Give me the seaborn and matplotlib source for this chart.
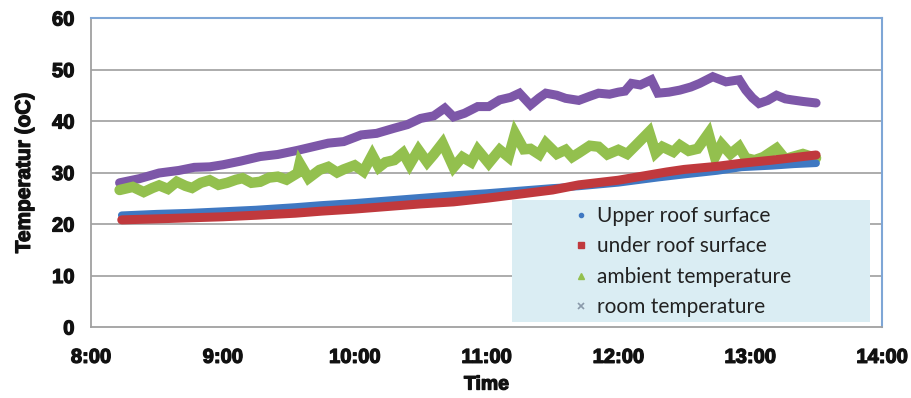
import numpy as np
import pandas as pd
import matplotlib
matplotlib.use("Agg")
import matplotlib.pyplot as plt
from matplotlib.lines import Line2D
from matplotlib.patches import Rectangle
import matplotlib.patheffects as pe
import seaborn as sns

# ---------------- data ----------------
upper_time = ["8:14", "8:30", "8:45", "9:00", "9:15", "9:33", "9:45", "10:00", "10:15",
              "10:30", "10:45", "11:00", "11:15", "11:30", "11:42", "12:00", "12:18",
              "12:30", "12:45", "12:56", "13:10", "13:20", "13:30"]
upper_vals = [21.7, 22.0, 22.2, 22.5, 22.8, 23.3, 23.7, 24.1, 24.6,
              25.1, 25.6, 26.0, 26.5, 27.0, 27.3, 28.0, 29.0,
              29.6, 30.3, 31.0, 31.3, 31.6, 31.8]

under_time = ["8:14", "8:30", "8:45", "9:00", "9:15", "9:33", "9:45", "10:00", "10:15",
              "10:30", "10:45", "11:00", "11:15", "11:30", "11:42", "12:00", "12:22",
              "12:30", "12:45", "12:56", "13:10", "13:20", "13:30"]
under_vals = [20.8, 21.0, 21.2, 21.4, 21.7, 22.1, 22.5, 22.9, 23.4,
              23.9, 24.3, 25.0, 25.8, 26.6, 27.6, 28.5, 30.1,
              30.6, 31.2, 31.8, 32.4, 32.9, 33.4]

ambient_time = ["8:13", "8:19", "8:24", "8:28", "8:31", "8:35", "8:39", "8:43", "8:46", "8:50",
                "8:54", "8:58", "9:02", "9:06", "9:09", "9:13", "9:17", "9:21", "9:25", "9:29",
                "9:34", "9:35", "9:39", "9:44", "9:48", "9:52", "9:55", "10:00", "10:04", "10:08",
                "10:11", "10:14", "10:18", "10:22", "10:25", "10:29", "10:33", "10:36", "10:40",
                "10:45", "10:49", "10:53", "10:56", "11:01", "11:06", "11:10", "11:13", "11:17",
                "11:20", "11:24", "11:27", "11:32", "11:36", "11:39", "11:42", "11:47", "11:51",
                "11:55", "12:00", "12:04", "12:08", "12:14", "12:17", "12:20", "12:25", "12:28",
                "12:32", "12:36", "12:41", "12:44", "12:47", "12:51", "12:55", "12:58", "13:02",
                "13:06", "13:12", "13:16", "13:19", "13:24", "13:30"]
ambient_vals = [26.6, 27.2, 26.2, 27.0, 27.5, 26.8, 28.2, 27.4, 27.0, 28.0,
                28.5, 27.6, 28.0, 28.6, 28.9, 28.0, 28.2, 29.0, 29.2, 28.6,
                29.9, 31.8, 28.9, 30.5, 31.1, 30.0, 30.6, 31.4, 30.2, 33.4,
                31.0, 32.0, 32.4, 33.8, 31.5, 34.4, 32.0, 33.5, 35.7,
                31.0, 33.0, 32.0, 34.4, 31.8, 34.4, 33.0, 37.6, 34.5,
                34.6, 33.5, 35.7, 33.6, 34.4, 33.0, 33.8, 35.2, 35.0,
                33.5, 34.4, 33.6, 35.3, 37.9, 33.8, 35.0, 34.0, 35.3,
                34.2, 34.6, 37.6, 33.0, 35.5, 33.6, 35.0, 32.8, 32.4,
                33.0, 34.7, 32.6, 33.0, 33.6, 32.8]

room_time = ["8:13", "8:22", "8:31", "8:40", "8:47", "8:54", "9:00", "9:08", "9:17",
             "9:25", "9:34", "9:41", "9:48", "9:55", "10:03", "10:10", "10:18", "10:24",
             "10:30", "10:36", "10:41", "10:45", "10:50", "10:56", "11:01", "11:06", "11:11",
             "11:15", "11:20", "11:24", "11:27", "11:32", "11:36", "11:42", "11:47", "11:51",
             "11:56", "12:00", "12:03", "12:06", "12:10", "12:15", "12:18", "12:23", "12:28",
             "12:33", "12:37", "12:43", "12:49", "12:55", "12:58", "13:01", "13:04", "13:08",
             "13:12", "13:16", "13:19", "13:24", "13:30"]
room_vals = [28.0, 28.8, 29.9, 30.4, 31.0, 31.1, 31.5, 32.2, 33.1,
             33.5, 34.3, 35.0, 35.7, 36.0, 37.3, 37.6, 38.6, 39.3,
             40.5, 41.0, 42.5, 40.8, 41.5, 42.8, 42.8, 44.1, 44.6,
             45.4, 43.1, 44.5, 45.4, 45.0, 44.4, 44.0, 44.8, 45.4,
             45.2, 45.6, 45.8, 47.3, 47.0, 48.0, 45.4, 45.6, 46.0,
             46.6, 47.3, 48.6, 47.6, 48.0, 46.0, 44.5, 43.4, 44.0,
             45.0, 44.3, 44.1, 43.8, 43.5]

series_names = ["Upper roof surface", "under roof surface",
                "ambient temperature", "room temperature"]
x_tick_labels = ["8:00", "9:00", "10:00", "11:00", "12:00", "13:00", "14:00"]
y_ticks = [0, 10, 20, 30, 40, 50, 60]


def to_hours(lbls):
    out = []
    for s in lbls:
        h, m = s.split(":")
        out.append(int(h) + int(m) / 60.0)
    return out


frames = []
for name, t, v in [(series_names[0], upper_time, upper_vals),
                   (series_names[1], under_time, under_vals),
                   (series_names[2], ambient_time, ambient_vals),
                   (series_names[3], room_time, room_vals)]:
    frames.append(pd.DataFrame({"hour": to_hours(t), "temp": v, "series": name}))
df = pd.concat(frames, ignore_index=True)

# ---------------- styling ----------------
sns.set_theme(style="white")
plt.rcParams["font.family"] = ["Liberation Sans Narrow", "Liberation Sans", "DejaVu Sans"]

colors = {series_names[0]: "#3f78c2",
          series_names[1]: "#c0393d",
          series_names[2]: "#93c04e",
          series_names[3]: "#7d57a8"}

fig = plt.figure(figsize=(9.12, 3.98), dpi=100)
ax = fig.add_axes([91 / 912, 1 - 327 / 398, (882 - 91) / 912, (327 - 18) / 398])

widths = {series_names[0]: 5.5, series_names[1]: 6.5, series_names[2]: 7.5, series_names[3]: 6.5}
for name in [series_names[3], series_names[2], series_names[0], series_names[1]]:
    sub = df[df["series"] == name]
    sns.lineplot(data=sub, x="hour", y="temp", ax=ax, color=colors[name],
                 linewidth=widths[name], legend=False, estimator=None, sort=False,
                 solid_joinstyle="miter", zorder=3)

ax.set_xlim(8, 14)
ax.set_ylim(0, 60)
ax.set_xticks(to_hours(x_tick_labels))
ax.set_xticklabels(x_tick_labels)
ax.set_yticks(y_ticks)
ax.set_yticklabels([str(v) for v in y_ticks])

for yv in y_ticks[1:-1]:
    ax.axhline(yv, color="#a6a6a6", linewidth=1.3, zorder=1)

for side in ["left", "bottom"]:
    ax.spines[side].set_color("#a0a0a0")
    ax.spines[side].set_linewidth(1.3)
for side in ["top", "right"]:
    ax.spines[side].set_color("#7ea6d6")
    ax.spines[side].set_linewidth(1.5)

bold_fx = [pe.withStroke(linewidth=0.9, foreground="#111111")]
ax.tick_params(axis="both", which="major", direction="out", length=6, width=1.3,
               color="#a0a0a0", labelsize=14.5, labelcolor="#111111")
ax.tick_params(axis="y", pad=6)
ax.tick_params(axis="x", pad=9)
for lbl in ax.get_xticklabels() + ax.get_yticklabels():
    lbl.set_fontweight("bold")
    lbl.set_path_effects(bold_fx)

xl = ax.set_xlabel("Time", fontsize=14, fontweight="bold", labelpad=7, color="#111111")
yl = ax.set_ylabel("Temperatur (oC)", fontsize=15, fontweight="bold", labelpad=13, color="#111111")
xl.set_path_effects(bold_fx)
yl.set_path_effects(bold_fx)

# legend box
bx0 = (512 - 91) / 791
by0 = (327 - 322) / 309
bw = (870 - 512) / 791
bh = (322 - 200) / 309
ax.add_patch(Rectangle((bx0, by0), bw, bh, transform=ax.transAxes,
                       facecolor="#daedf3", edgecolor="none", zorder=4))

handles = [
    Line2D([], [], linestyle="none", marker="o", markersize=3, color=colors[series_names[0]]),
    Line2D([], [], linestyle="none", marker="s", markersize=4.5, color=colors[series_names[1]]),
    Line2D([], [], linestyle="none", marker="^", markersize=4.5, color=colors[series_names[2]]),
    Line2D([], [], linestyle="none", marker="x", markersize=4, markeredgewidth=1.2,
           color="#8a9aaa"),
]
leg = ax.legend(handles, series_names, loc="upper left",
                bbox_to_anchor=((575 - 91) / 791, (327 - 206) / 309),
                frameon=False, handlelength=0.6, handletextpad=0.45,
                labelspacing=0.50, borderpad=0.0, borderaxespad=0.0,
                prop={"family": ["Lato", "DejaVu Sans"], "size": 15})
leg.set_zorder(5)
for t in leg.get_texts():
    t.set_color("#222222")

fig.savefig("out.png", dpi=100)
